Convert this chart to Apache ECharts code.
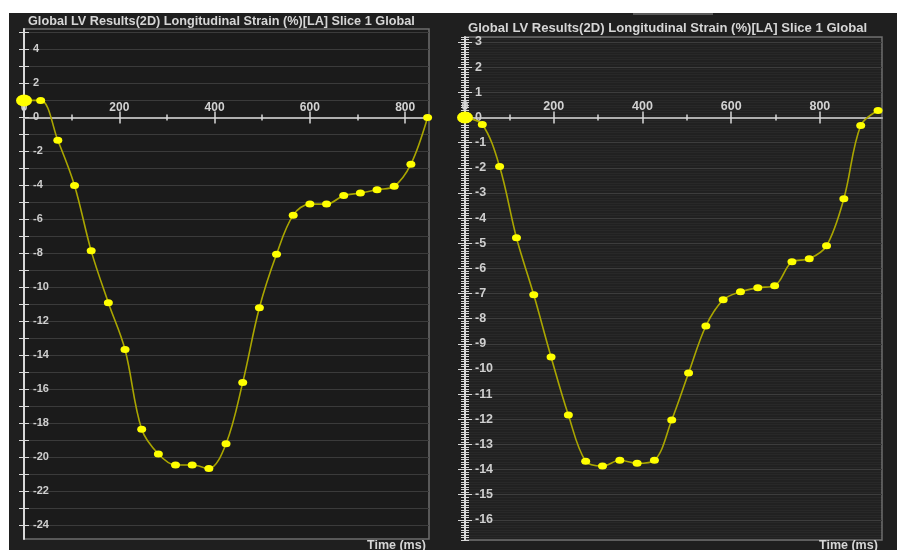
<!DOCTYPE html>
<html>
<head>
<meta charset="utf-8">
<script src="https://cdn.jsdelivr.net/npm/echarts@6/dist/echarts.min.js"></script>
<style>
  html, body { margin: 0; padding: 0; background: #ffffff; }
  #chart { width: 897px; height: 550px; }
</style>
</head>
<body>
<div id="chart"></div>
<script>
// Global longitudinal strain curves, two acquisitions (time in ms, strain in %)
const timeA = [0, 35, 71, 106, 141, 177, 212, 247, 282, 318, 353, 388, 424, 459, 494, 530, 565, 600, 635, 671, 706, 741, 777, 812, 847];
const strainA = [1.0, 1.0, -1.35, -4.0, -7.85, -10.9, -13.65, -18.35, -19.8, -20.45, -20.45, -20.65, -19.2, -15.6, -11.2, -8.05, -5.75, -5.1, -5.1, -4.6, -4.45, -4.25, -4.05, -2.75, 0.0];

const timeB = [0, 39, 78, 116, 155, 194, 233, 272, 310, 349, 388, 427, 466, 504, 543, 582, 621, 660, 698, 737, 776, 815, 854, 892, 931];
const strainB = [0.0, -0.28, -1.95, -4.78, -7.05, -9.52, -11.83, -13.67, -13.86, -13.63, -13.75, -13.63, -12.03, -10.16, -8.29, -7.25, -6.93, -6.77, -6.69, -5.74, -5.62, -5.1, -3.23, -0.32, 0.28];

// Axis labels
const yLabelsA = [-24, -22, -20, -18, -16, -14, -12, -10, -8, -6, -4, -2, 0, 2, 4];
const yLabelsB = [-16, -15, -14, -13, -12, -11, -10, -9, -8, -7, -6, -5, -4, -3, -2, -1, 0, 1, 2, 3];
const xLabels = [0, 200, 400, 600, 800];
const xMajorTicks = [200, 400, 600, 800];
const xMinorTicks = [100, 300, 500, 700];

const titleText = 'Global LV Results(2D) Longitudinal Strain (%)[LA] Slice 1 Global';
const xName = 'Time (ms)';

// Axis ranges
const rangeA = { xMax: 850, yMin: -24.8, yMax: 5.2 };
const rangeB = { xMax: 940, yMin: -16.8, yMax: 3.2 };

// Plot boxes
const boxA = { left: 24, top: 29, width: 405, height: 510 };
const boxB = { left: 465, top: 37, width: 417, height: 503 };

// Tick positions along the strain axes
const intTicksA = [];
for (let v = -24; v <= 5; v++) intTicksA.push(v);
const intTicksB = [];
for (let v = -16; v <= 3; v++) intTicksB.push(v);
const fineTicksB = [];
for (let k = -168; k <= 32; k++) {
  if (k % 10 !== 0) fineTicksB.push(k / 10);
}

const FONT = 'Liberation Sans, Arial, Helvetica, sans-serif';
const AXIS_WHITE = '#d8d8d8';

function yAxisSet(grid, range, opts) {
  const base = { type: 'value', gridIndex: grid, position: 'left', offset: 0, min: range.yMin, max: range.yMax };
  return opts.map(o => Object.assign({}, base, o));
}

function yMain(ticks, labels, tickLen, fontSize, margin, splitColor) {
  return {
    axisLine: { show: true, onZero: false, lineStyle: { color: AXIS_WHITE, width: 2 } },
    axisTick: { show: true, customValues: ticks, inside: false, length: tickLen, lineStyle: { color: AXIS_WHITE, width: 1 } },
    axisLabel: { show: true, customValues: labels, inside: true, margin: margin, color: '#cfcfcf', fontSize: fontSize, fontFamily: FONT, fontWeight: 'bold' },
    splitLine: { show: true, lineStyle: { color: splitColor, width: 1 } }
  };
}
function yTicksOnly(ticks, inside, tickLen, split) {
  return {
    axisLine: { show: false, onZero: false },
    axisTick: { show: true, customValues: ticks, inside: inside, length: tickLen, lineStyle: { color: AXIS_WHITE, width: 1 } },
    axisLabel: { show: false },
    splitLine: split ? { show: true, lineStyle: { color: split, width: 1 } } : { show: false }
  };
}

// The time axis sits on the strain zero line: shift it up from the bottom edge
function xAxisSet(grid, range, box, fontSize) {
  const lift = box.height * (0 - range.yMin) / (range.yMax - range.yMin);
  const base = { type: 'value', gridIndex: grid, min: 0, max: range.xMax, splitLine: { show: false }, position: 'bottom', offset: -lift };
  const line = { onZero: false };
  return [
    Object.assign({}, base, {
      axisLine: Object.assign({ show: true, lineStyle: { color: '#b0b0b0', width: 2 } }, line),
      axisTick: { show: true, customValues: xMajorTicks, inside: true, length: 6, lineStyle: { color: AXIS_WHITE, width: 1.5 } },
      axisLabel: { show: true, customValues: xLabels, inside: true, margin: 4, color: '#d2d2d2', fontSize: fontSize, fontFamily: FONT, fontWeight: 'bold' }
    }),
    Object.assign({}, base, {
      axisLine: Object.assign({ show: false }, line),
      axisTick: { show: true, customValues: xMajorTicks, inside: false, length: 6, lineStyle: { color: AXIS_WHITE, width: 1.5 } },
      axisLabel: { show: false }
    }),
    Object.assign({}, base, {
      axisLine: Object.assign({ show: false }, line),
      axisTick: { show: true, customValues: xMinorTicks, inside: true, length: 3, lineStyle: { color: AXIS_WHITE, width: 1.5 } },
      axisLabel: { show: false }
    }),
    Object.assign({}, base, {
      axisLine: Object.assign({ show: false }, line),
      axisTick: { show: true, customValues: xMinorTicks, inside: false, length: 3, lineStyle: { color: AXIS_WHITE, width: 1.5 } },
      axisLabel: { show: false }
    })
  ];
}

const yAxesA = yAxisSet(0, rangeA, [
  yMain(intTicksA, yLabelsA, 5, 11, 9, '#3b3b3b'),
  yTicksOnly(intTicksA, true, 5, null)
]);
const yAxesB = yAxisSet(1, rangeB, [
  yMain(intTicksB, yLabelsB, 7, 12.5, 10, '#3d3d3d'),
  yTicksOnly(intTicksB, true, 7, null),
  yTicksOnly(fineTicksB, false, 4, 'rgba(255,255,255,0.035)'),
  yTicksOnly(fineTicksB, true, 4, null)
]);
// y axis indices: grid 0 -> 0..1, grid 1 -> 2..5 ; x axis indices: grid 0 -> 0..3, grid 1 -> 4..7
const xAxesA = xAxisSet(0, rangeA, boxA, 12);
const xAxesB = xAxisSet(1, rangeB, boxB, 12.5);

function strainSeries(times, values, xi, yi) {
  const data = times.map((t, i) => {
    if (i === 0) return { value: [t, values[i]], symbolSize: [16, 12] };
    return [t, values[i]];
  });
  return {
    type: 'line',
    xAxisIndex: xi,
    yAxisIndex: yi,
    data: data,
    smooth: 0.35,
    clip: false,
    symbol: 'circle',
    symbolSize: [9, 7],
    showAllSymbol: true,
    z: 10,
    lineStyle: { color: '#aaa600', width: 1.6 },
    itemStyle: { color: '#ffff00', borderWidth: 0 },
    emphasis: { disabled: true }
  };
}

const gridStyle = { show: true, borderColor: '#6e6e6e', borderWidth: 1.5, containLabel: false };

const chart = echarts.init(document.getElementById('chart'), null, { renderer: 'canvas' });
chart.setOption({
  backgroundColor: '#1f1f1f',
  animation: false,
  title: [
    { text: titleText, left: 28, top: 15, padding: 0,
      textStyle: { color: '#d6d6d6', fontSize: 12.7, fontWeight: 'bold', fontFamily: FONT } },
    { text: titleText, left: 468, top: 22, padding: 0,
      textStyle: { color: '#d6d6d6', fontSize: 13.1, fontWeight: 'bold', fontFamily: FONT } },
    { text: xName, left: 367, top: 539, padding: 0,
      textStyle: { color: '#d6d6d6', fontSize: 12.5, fontWeight: 'bold', fontFamily: FONT } },
    { text: xName, left: 819, top: 539, padding: 0,
      textStyle: { color: '#d6d6d6', fontSize: 12.5, fontWeight: 'bold', fontFamily: FONT } }
  ],
  grid: [
    Object.assign({}, boxA, gridStyle, { backgroundColor: '#1b1b1b' }),
    Object.assign({}, boxB, gridStyle, { backgroundColor: '#212121' })
  ],
  xAxis: xAxesA.concat(xAxesB),
  yAxis: yAxesA.concat(yAxesB),
  graphic: {
    elements: [
      { type: 'rect', silent: true, shape: { x: 0, y: 0, width: 897, height: 13 }, style: { fill: '#ffffff' } },
      { type: 'rect', silent: true, shape: { x: 0, y: 0, width: 9, height: 550 }, style: { fill: '#ffffff' } },
      { type: 'rect', silent: true, shape: { x: 633, y: 13, width: 80, height: 2 }, style: { fill: '#5a5a5a' } }
    ]
  },
  series: [
    strainSeries(timeA, strainA, 0, 0),
    strainSeries(timeB, strainB, 4, 2)
  ]
});
</script>
</body>
</html>
